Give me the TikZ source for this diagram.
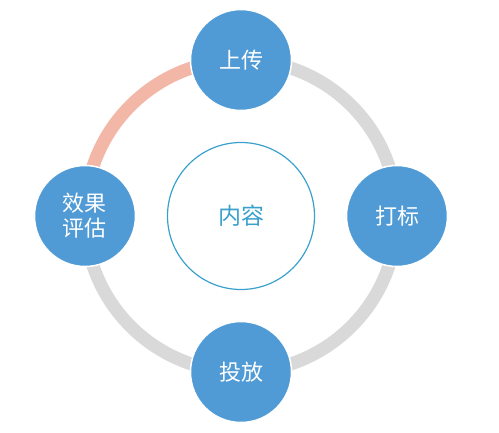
\documentclass[tikz,border=0pt]{standalone}
\usepackage{fontspec}
\newfontfamily\cjk{Noto Sans CJK SC}
\usetikzlibrary{backgrounds}
\definecolor{stepblue}{RGB}{80,155,213}
\definecolor{coreblue}{RGB}{58,160,205}
\definecolor{ringgray}{RGB}{217,217,217}
\definecolor{ringsalmon}{RGB}{242,183,166}

\begin{document}
\begin{tikzpicture}[x=1pt, y=1pt,
		stepnode/.style={circle, fill=stepblue, draw=white, line width=1.5pt, minimum size=101pt, inner sep=0pt, text=white, align=center, font=\cjk\fontsize{22}{25}\selectfont},
		corenode/.style={circle, draw=coreblue, line width=1.2pt, minimum size=147pt, text=coreblue, font=\cjk\fontsize{23}{26}\selectfont},
		track/.style={line width=13pt, draw=ringgray}]
		\useasboundingbox (0, 0) rectangle (499, 432);

		\node[corenode] (core) at (241, 216) {内容};

		\node[stepnode] (upload) at (241, 372) {上传};
		\node[stepnode] (label) at (397, 216) {打标};
		\node[stepnode] (deliver) at (241, 60) {投放};
		\node[stepnode] (review) at (85, 216) {效果\\评估};

		\begin{scope}[on background layer]
			\draw[track] (upload.center) to[out=0, in=90] (label.center);
			\draw[track] (label.center) to[out=-90, in=0] (deliver.center);
			\draw[track] (deliver.center) to[out=180, in=-90] (review.center);
			\draw[track, draw=ringsalmon] (review.center) to[out=90, in=180] (upload.center);
		\end{scope}

	\end{tikzpicture}
\end{document}
